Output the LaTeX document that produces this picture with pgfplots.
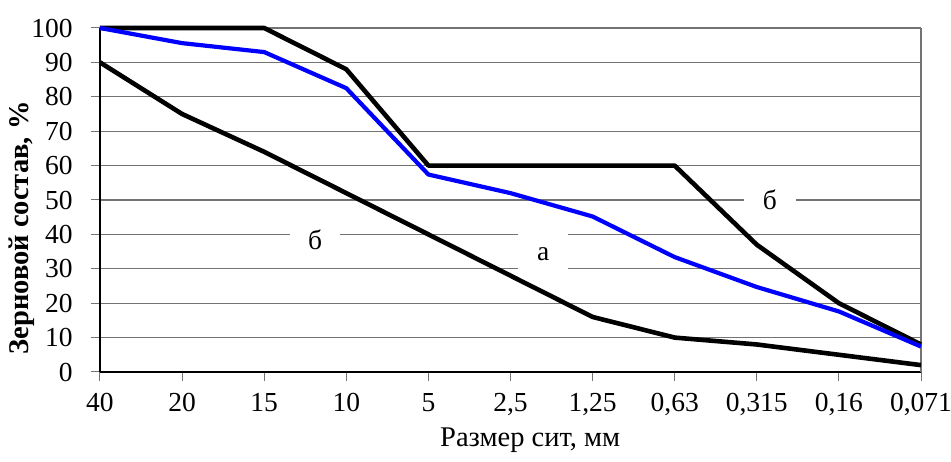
\documentclass[border=0pt]{standalone}
\usepackage{fontspec}
\setmainfont{Liberation Serif}
\usepackage{pgfplots}
\pgfplotsset{compat=1.18}
\begin{document}
\fontsize{27.5}{32}\selectfont
\begin{tikzpicture}[x=1pt,y=1pt]
\useasboundingbox (-100,-90) rectangle (851,372);
\begin{axis}[
 at={(0,0)}, anchor=south west,
 scale only axis, width=821pt, height=344pt,
 xmin=0, xmax=10, ymin=0, ymax=100,
 xtick={0,...,10},
 xticklabels={40,20,15,10,5,{2,5},{1,25},{0,63},{0,315},{0,16},{0,071}},
 ytick={0,10,...,100},
 /pgf/number format/assume math mode=true,
 ymajorgrids, grid style={black!55, line width=1.2pt},
 axis x line*=bottom, axis y line*=left,
 axis line style={-, black, line width=1.3pt},
 tick align=outside, major tick length=9pt,
 tick style={black!55, line width=1pt},
 ticklabel style={font=\fontsize{27.5}{32}\selectfont},
 yticklabel style={xshift=-9pt},
 xticklabel style={yshift=-3pt},
 xlabel={Размер сит, мм},
 ylabel={\bfseries Зерновой состав, \%},
 xlabel style={at={(axis description cs:0.524,-0.198)}, anchor=center, font=\fontsize{28.5}{33}\selectfont},
 ylabel style={at={(axis description cs:-0.095,0.419)}, anchor=center, rotate=0, font=\fontsize{28.5}{33}\selectfont},
 clip=false,
 line join=round,
]
\draw[black!55, line width=1.2pt] (rel axis cs:1,0) -- (rel axis cs:1,1);
\addplot[black, line width=4.6pt, line join=round] coordinates {
 (0,100) (1,100) (2,100) (3,88) (4,60) (5,60) (6,60) (7,60) (8,37) (9,20) (10,8)};
\addplot[blue, line width=4.2pt, line join=round] coordinates {
 (0,100) (1,95.6) (2,93) (3,82.5) (4,57.4) (5,52) (6,45.2) (7,33.4) (8,24.7) (9,17.6) (10,7.4)};
\addplot[black, line width=4.6pt, line join=round] coordinates {
 (0,90) (1,75) (2,64) (3,52) (4,40) (5,28) (6,16) (7,10) (8,8) (9,5) (10,2)};
\node[fill=white, minimum width=50pt, minimum height=28pt, inner sep=0pt] at (axis cs:2.62,38.4) {б};
\node[fill=white, minimum width=50pt, minimum height=40pt, inner sep=0pt] at (axis cs:5.4,34.3) {а};
\node[fill=white, minimum width=52pt, minimum height=28pt, inner sep=0pt] at (axis cs:8.16,50) {б};
\end{axis}
\end{tikzpicture}
\end{document}
